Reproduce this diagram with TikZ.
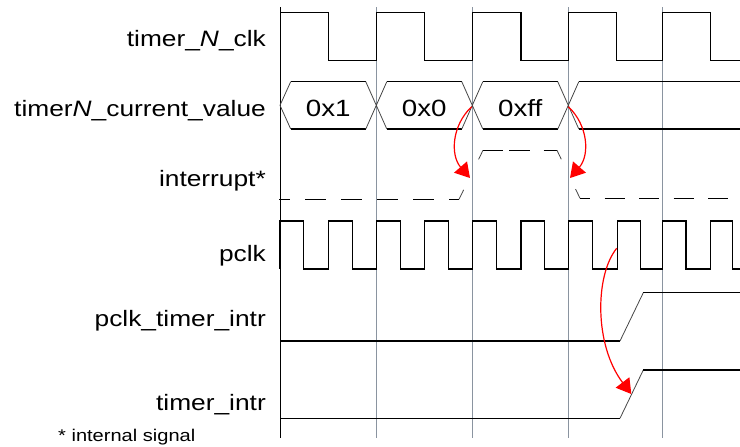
\documentclass[tikz,border=0pt]{standalone}
\usepackage{fontspec}
\setmainfont{Liberation Sans}
\newfontfamily\sigfont[FakeStretch=1.18]{Liberation Sans}
\usetikzlibrary{arrows.meta}
\definecolor{gridgray}{RGB}{138,148,160}
\definecolor{edgegray}{RGB}{70,70,70}
\definecolor{arrowred}{RGB}{255,0,0}

\begin{document}
\begin{tikzpicture}[x=1pt,y=-1pt,
  sig/.style={black,line width=1.25pt,line join=miter},
  edge/.style={edgegray,line width=0.8pt},
  gridline/.style={gridgray,line width=1pt},
  dsig/.style={black,line width=1.25pt},
  cause/.style={arrowred,line width=1.2pt,-{Triangle[length=14.5pt,width=17pt]}},
  lbl/.style={anchor=base east,inner sep=0pt,font=\sigfont\fontsize{22.3}{26}\selectfont},
  val/.style={anchor=base,inner sep=0pt,font=\sigfont\fontsize{23.5}{28}\selectfont},
  note/.style={anchor=base west,inner sep=0pt,font=\sigfont\fontsize{17}{20}\selectfont},
]
\useasboundingbox (0,0) rectangle (740,447);

% time grid
\foreach \x in {376.3,472.3,568.3,662}
  \draw[gridline] (\x,7) -- (\x,437.7);
\draw[sig] (280.7,7) -- (280.7,437.7);

% signal names
\node[lbl] (lclk)  at (266,46.7)  {timer\_\textit{N}\_clk};
\node[lbl] (lval)  at (266,116.7) {timer\textit{N}\_current\_value};
\node[lbl] (lint)  at (266,186)   {interrupt*};
\node[lbl] (lpclk) at (266,261.7) {pclk};
\node[lbl] (lpti)  at (266,326.7) {pclk\_timer\_intr};
\node[lbl] (lti)   at (266,410)   {timer\_intr};
\node[note] (fn)   at (58,441)    {* internal signal};

% timer_N_clk
\draw[sig] (280.7,12.3) -- (328.7,12.3) -- (328.7,60.3) -- (376.3,60.3)
  -- (376.3,12.3) -- (424.3,12.3) -- (424.3,60.3) -- (472.3,60.3)
  -- (472.3,12.3) -- (521,12.3) -- (521,60.3) -- (568.3,60.3)
  -- (568.3,12.3) -- (616.7,12.3) -- (616.7,60.3) -- (662.3,60.3)
  -- (662.3,12.3) -- (710.7,12.3) -- (710.7,60.3) -- (740,60.3);

% timerN_current_value bus
\foreach \y in {81.7,129}
  \draw[sig] (290.7,\y) -- (365.7,\y) (386.7,\y) -- (461.8,\y)
             (482.8,\y) -- (557.8,\y) (578.8,\y) -- (740,\y);
\draw[edge] (290.7,81.7) -- (280,105.3) -- (290.7,129);
\foreach \x in {376.3,472.3,568.3}
  \draw[edge] (\x-10.5,81.7) -- (\x+10.5,129) (\x-10.5,129) -- (\x+10.5,81.7);
\node[val] (v1)  at (328.3,116.7) {0x1};
\node[val] (v0)  at (424.3,116.7) {0x0};
\node[val] (vff) at (520.3,116.7) {0xff};

% interrupt* (internal, dashed)
\draw[dsig,dash pattern=on 20.7pt off 15.3pt,dash phase=10pt] (279,199.3) -- (459,199.3);
\draw[edge,dash pattern=on 10.5pt off 34pt on 12pt] (459,199.3) -- (483,150.3);
\draw[dsig,dash pattern=on 20pt off 6pt on 20.7pt off 14pt on 13pt] (483,150.3) -- (557,150.3);
\draw[edge,dash pattern=on 10pt off 33pt on 12pt] (557,150.3) -- (580,198.3);
\draw[dsig,dash pattern=on 20pt off 14.5pt,dash phase=10pt] (580,198.3) -- (740,198.3);

% pclk
\draw[sig] (279.3,269) -- (279.3,221) -- (303.7,221) -- (303.7,269)
  -- (328.7,269) -- (328.7,221) -- (352.3,221) -- (352.3,269)
  -- (376.3,269) -- (376.3,221) -- (400.3,221) -- (400.3,269)
  -- (424.3,269) -- (424.3,221) -- (448.3,221) -- (448.3,269)
  -- (472.3,269) -- (472.3,221) -- (496.7,221) -- (496.7,269)
  -- (521,269) -- (521,221) -- (544.3,221) -- (544.3,269)
  -- (568.3,269) -- (568.3,221) -- (592.3,221) -- (592.3,269)
  -- (617.3,269) -- (617.3,221) -- (640.3,221) -- (640.3,269)
  -- (662.3,269) -- (662.3,221) -- (686,221) -- (686,269)
  -- (710.7,269) -- (710.7,221) -- (732.3,221) -- (732.3,269)
  -- (740,269);

% pclk_timer_intr
\draw[sig] (280.7,341) -- (620,341);
\draw[edge] (620,341) -- (643.3,292.7);
\draw[sig] (643.3,292.7) -- (740,292.7);

% timer_intr
\draw[sig] (280.7,418.3) -- (620,418.3);
\draw[edge] (620,418.3) -- (643.3,370);
\draw[sig] (643.3,370) -- (740,370);

% causality arrows
\coordinate (a1s) at (471.7,106.7);
\coordinate (a1e) at (470,178);
\coordinate (a2s) at (568.3,106.7);
\coordinate (a2e) at (570,178);
\coordinate (a3s) at (616.7,248.3);
\coordinate (a3e) at (631.3,394);
\draw[cause] (a1s) .. controls (452,125) and (450,155) .. (a1e);
\draw[cause] (a2s) .. controls (588,125) and (590,155) .. (a2e);
\draw[cause] (a3s) .. controls (595,275) and (594,345) .. (a3e);
\end{tikzpicture}
\end{document}
